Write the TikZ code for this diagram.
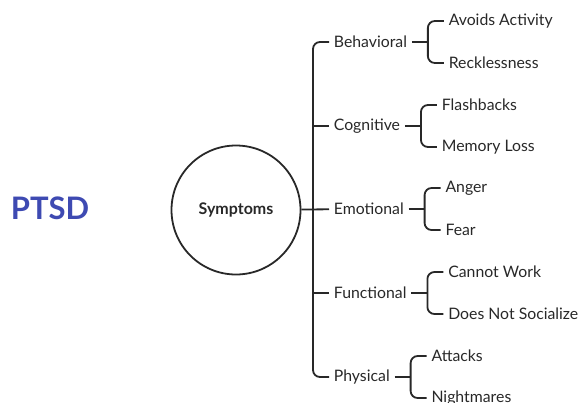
\documentclass[tikz,border=0pt]{standalone}
\usepackage{fontspec}
\setmainfont{Lato}
\usetikzlibrary{positioning}

\definecolor{ptsdblue}{RGB}{62,74,178}
\definecolor{inkgray}{RGB}{40,40,40}

\begin{document}
\begin{tikzpicture}[x=1pt,y=-1pt,line width=1.8pt,draw=inkgray,
                    node distance=42pt]
  \tikzstyle{cat}=[anchor=west,inner sep=4pt,text=inkgray,font=\fontsize{15.8}{18}\selectfont]
  \tikzstyle{leaf}=[anchor=west,inner sep=4pt,text=inkgray,font=\fontsize{15.8}{18}\selectfont]
  \tikzstyle{bracket}=[rounded corners=7pt]
  \useasboundingbox (0,0) rectangle (580,402);

  \node[text=ptsdblue,font=\fontsize{31}{33}\bfseries] (ptsd) at (50,208) {PTSD};
  \node[circle,draw,minimum size=129pt,inner sep=0pt,text=inkgray,
        font=\fontsize{16}{18}\selectfont\bfseries] (sym) at (236,210) {Symptoms};

  % categories
  \node[cat] (emo) at (329,209) {Emotional};
  \node[cat] (cog) at (329,126) {Cognitive};
  \node[cat] (beh) at (329,42)  {Behavioral};
  \node[cat] (fun) at (329,293) {Functional};
  \node[cat] (phy) at (329,377) {Physical};
  \coordinate (trunk) at (313,209);

  \draw (sym) -- (emo);
  \draw[bracket] (beh.west) -| (trunk) |- (phy.west);
  \draw (cog.west) -- (cog.west -| trunk);
  \draw (fun.west) -- (fun.west -| trunk);

  % brackets to leaves
  \coordinate[right=16pt of beh.east] (behB);
  \coordinate[right=16pt of cog.east] (cogB);
  \coordinate[right=16pt of emo.east] (emoB);
  \coordinate[right=16pt of fun.east] (funB);
  \coordinate[right=16pt of phy.east] (phyB);

  \node[leaf,yshift=21pt,xshift=16pt]  (b1) at (behB) {Avoids Activity};
  \node[leaf,yshift=-21pt,xshift=16pt] (b2) at (behB) {Recklessness};
  \node[leaf,yshift=21pt,xshift=16pt]  (c1) at (cogB) {Flashbacks};
  \node[leaf,yshift=-21pt,xshift=16pt] (c2) at (cogB) {Memory Loss};
  \node[leaf,yshift=21pt,xshift=16pt]  (e1) at (emoB) {Anger};
  \node[leaf,yshift=-21pt,xshift=16pt] (e2) at (emoB) {Fear};
  \node[leaf,yshift=21pt,xshift=16pt]  (f1) at (funB) {Cannot Work};
  \node[leaf,yshift=-21pt,xshift=16pt] (f2) at (funB) {Does Not Socialize};
  \node[leaf,yshift=21pt,xshift=16pt]  (p1) at (phyB) {Attacks};
  \node[leaf,yshift=-21pt,xshift=16pt] (p2) at (phyB) {Nightmares};

  \draw (beh.east) -- (behB);
  \draw (cog.east) -- (cogB);
  \draw (emo.east) -- (emoB);
  \draw (fun.east) -- (funB);
  \draw (phy.east) -- (phyB);
  \draw[bracket] (b1.west) -| (behB) |- (b2.west);
  \draw[bracket] (c1.west) -| (cogB) |- (c2.west);
  \draw[bracket] (e1.west) -| (emoB) |- (e2.west);
  \draw[bracket] (f1.west) -| (funB) |- (f2.west);
  \draw[bracket] (p1.west) -| (phyB) |- (p2.west);
\end{tikzpicture}
\end{document}
